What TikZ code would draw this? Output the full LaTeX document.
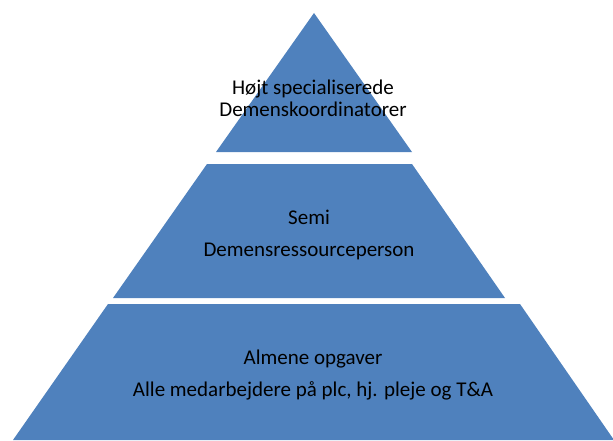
\documentclass[tikz,border=0pt]{standalone}
\usepackage{fontspec}
\setmainfont{Carlito}
\definecolor{layerblue}{HTML}{4F81BD}

\begin{document}
\begin{tikzpicture} [x=1pt, y=1pt, align=center,
    layer/.style={fill=layerblue},
    lbl/.style={font=\fontsize{21}{22}\selectfont, inner sep=0pt}]
\useasboundingbox (0,0) rectangle (613,440);

\fill[layer] (314,427) -- (216,288) -- (412,288) -- cycle;
\fill[layer] (207,276) -- (412,276) -- (505,142) -- (113,142) -- cycle;
\fill[layer] (108,136) -- (520,136) -- (614,0) -- (13,0) -- cycle;

\path (313,342) node[lbl] (top) {Højt specialiserede\\Demenskoordinatorer}
      (309,205) node[lbl] (mid) {Semi\\[10pt]Demensressourceperson}
      (313,65) node[lbl] (base) {Almene opgaver\\[10pt]Alle medarbejdere på plc, hj. pleje og T\&A};

\end{tikzpicture}
\end{document}
